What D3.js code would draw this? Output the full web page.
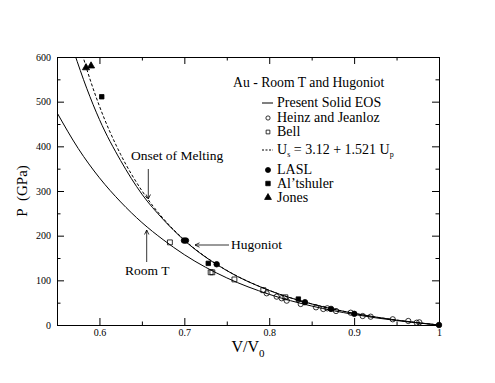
<!DOCTYPE html>
<html>
<head>
<meta charset="utf-8">
<script src="https://cdn.jsdelivr.net/npm/d3@7"></script>
<style>
body { margin: 0; background: #fff; }
text { font-family: "Liberation Serif", "Times New Roman", serif; fill: #000; }
.axis path, .axis line { stroke: #000; stroke-width: 1; }
</style>
</head>
<body>
<div id="viz"></div>
<script>
// Curves, [V/V0, P in GPa]
const roomT = [[0.55,475.5],[0.575,395.2],[0.60,329.5],[0.625,275.5],[0.65,229.5],[0.675,191],
  [0.70,157.5],[0.75,105.5],[0.80,68.7],[0.85,42.5],[0.90,23.6],[0.95,9.9],[1.0,0]];
const hugoniotSolid = [[0.57,611],[0.585,530],[0.60,460],[0.625,368],[0.65,293],[0.675,236.5],
  [0.70,189.5],[0.75,121.8],[0.80,77.4],[0.85,47.2],[0.90,26.1],[0.95,11.0],[1.0,0]];
const hugoniotFit = [[0.58,604.9],[0.585,573.3],[0.59,543.7],[0.60,490.0],[0.625,381.7],[0.65,300.7],
  [0.675,238.8],[0.70,190.6],[0.75,122.3],[0.80,77.6],[0.85,47.3],[0.90,26.1],[0.95,11.0],[1.0,0]];

// Measurements
const heinzJeanloz = [[0.797,71.0],[0.8088,63.5],[0.8147,59.8],[0.8206,54.5],[0.8371,47.0],[0.8551,39.6],
  [0.8637,35.8],[0.8684,37.4],[0.8787,31.3],[0.896,27.5],[0.9101,20.1],[0.9195,18.6],[0.9455,12.8],
  [0.9638,9.0],[0.9737,5.1],[0.9768,6.0]];
const bell = [[0.683,185],[0.731,118],[0.733,118],[0.759,102],[0.793,78],[0.819,62]];
const lasl = [[0.6996,189],[0.7019,189],[0.7381,136],[0.8421,51],[0.8728,36],[0.9002,25],[1.0,0]];
const altshuler = [[0.6027,511],[0.7282,138],[0.8343,58]];
const jones = [[0.5842,576],[0.5901,580]];

const xTicks = [0.6, 0.7, 0.8, 0.9, 1.0];
const xMinor = [0.55, 0.65, 0.75, 0.85, 0.95];
const yTicks = [0, 100, 200, 300, 400, 500, 600];
const yMinor = [50, 150, 250, 350, 450, 550];

const W = 495, H = 383;
const margin = { top: 57, right: 56, bottom: 58, left: 57 };
const width = W - margin.left - margin.right;
const height = H - margin.top - margin.bottom;

const svg = d3.select("#viz").append("svg")
  .attr("width", W).attr("height", H)
  .append("g")
  .attr("transform", "translate(" + margin.left + "," + margin.top + ")");

const x = d3.scaleLinear().domain([0.55, 1.0]).range([0, width]);
const y = d3.scaleLinear().domain([0, 600]).range([height, 0]);

svg.append("clipPath").attr("id", "clip")
  .append("rect").attr("width", width).attr("height", height);

// Frame and ticks on all four sides, pointing inward
const fmtX = d => d === 1 ? "1" : d3.format(".1f")(d);
svg.append("g").attr("class", "axis").attr("transform", "translate(0," + height + ")")
  .call(d3.axisBottom(x).tickValues(xTicks).tickSize(-7).tickPadding(4).tickFormat(fmtX))
  .call(g => g.selectAll("text").style("font-size", "10px"));
svg.append("g").attr("class", "axis").attr("transform", "translate(0," + height + ")")
  .call(d3.axisBottom(x).tickValues(xMinor).tickSize(-3.5).tickFormat(""));
svg.append("g").attr("class", "axis")
  .call(d3.axisTop(x).tickValues(xTicks).tickSize(-7).tickFormat(""));
svg.append("g").attr("class", "axis")
  .call(d3.axisTop(x).tickValues(xMinor).tickSize(-3.5).tickFormat(""));
svg.append("g").attr("class", "axis")
  .call(d3.axisLeft(y).tickValues(yTicks).tickSize(-7).tickPadding(6))
  .call(g => g.selectAll("text").style("font-size", "10px"));
svg.append("g").attr("class", "axis")
  .call(d3.axisLeft(y).tickValues(yMinor).tickSize(-3.5).tickFormat(""));
svg.append("g").attr("class", "axis").attr("transform", "translate(" + width + ",0)")
  .call(d3.axisRight(y).tickValues(yTicks).tickSize(-7).tickFormat(""));
svg.append("g").attr("class", "axis").attr("transform", "translate(" + width + ",0)")
  .call(d3.axisRight(y).tickValues(yMinor).tickSize(-3.5).tickFormat(""));

// Axis titles
svg.append("text")
  .attr("transform", "translate(" + (-30) + "," + (height / 2) + ") rotate(-90)")
  .attr("text-anchor", "middle")
  .style("font-size", "15px")
  .text("P\u00a0\u00a0(GPa)");
const xl = svg.append("text")
  .attr("x", width / 2).attr("y", height + 27)
  .attr("text-anchor", "middle")
  .style("font-size", "16px");
xl.append("tspan").text("V/V");
xl.append("tspan").attr("dy", 5).style("font-size", "11px").text("0");

// Curves
const line = d3.line().x(d => x(d[0])).y(d => y(d[1])).curve(d3.curveMonotoneX);
const curves = svg.append("g").attr("clip-path", "url(#clip)");
curves.append("path").datum(roomT).attr("d", line)
  .attr("fill", "none").attr("stroke", "#000").attr("stroke-width", 1);
curves.append("path").datum(hugoniotSolid).attr("d", line)
  .attr("fill", "none").attr("stroke", "#000").attr("stroke-width", 1);
curves.append("path").datum(hugoniotFit).attr("d", line)
  .attr("fill", "none").attr("stroke", "#000").attr("stroke-width", 1)
  .attr("stroke-dasharray", "3,2");

// Markers
const sym = (type, size) => d3.symbol().type(type).size(size)();
function addPoints(data, type, size, filled) {
  svg.append("g").selectAll("path")
    .data(data).enter().append("path")
    .attr("transform", d => "translate(" + x(d[0]) + "," + y(d[1]) + ")")
    .attr("d", sym(type, size))
    .attr("fill", filled ? "#000" : "none")
    .attr("stroke", "#000").attr("stroke-width", 0.8);
}
addPoints(heinzJeanloz, d3.symbolCircle, 22, false);
addPoints(bell, d3.symbolSquare, 24, false);
addPoints(lasl, d3.symbolCircle, 24, true);
addPoints(altshuler, d3.symbolSquare, 20, true);
addPoints(jones, d3.symbolTriangle, 22, true);

// Annotations with arrows
function arrow(x1, y1, x2, y2) {
  const a = Math.atan2(y2 - y1, x2 - x1), L = 5, s = 0.45;
  svg.append("path")
    .attr("d", "M" + x1 + "," + y1 + "L" + x2 + "," + y2 +
      "M" + (x2 - L * Math.cos(a - s)) + "," + (y2 - L * Math.sin(a - s)) + "L" + x2 + "," + y2 +
      "L" + (x2 - L * Math.cos(a + s)) + "," + (y2 - L * Math.sin(a + s)))
    .attr("fill", "none").attr("stroke", "#000").attr("stroke-width", 0.8);
}
svg.append("text").attr("x", 74).attr("y", 103).style("font-size", "13.5px").text("Onset of Melting");
arrow(91.3, 112, 91.3, 142);
svg.append("text").attr("x", 68).attr("y", 218).style("font-size", "13.5px").text("Room T");
arrow(89.7, 205, 89.7, 173);
svg.append("text").attr("x", 174).attr("y", 192).style("font-size", "13.5px").text("Hugoniot");
arrow(172, 188, 138, 188);

// Legend
svg.append("text").attr("x", 176).attr("y", 30).style("font-size", "13.7px")
  .text("Au - Room T and Hugoniot");
const legendRows = [
  { label: "Present Solid EOS", kind: "line", y: 46 },
  { label: "Heinz and Jeanloz", kind: "ocircle", y: 61 },
  { label: "Bell", kind: "osquare", y: 75 },
  { label: "Us", kind: "dash", y: 93 },
  { label: "LASL", kind: "fcircle", y: 113 },
  { label: "Al\u2019tshuler", kind: "fsquare", y: 126.5 },
  { label: "Jones", kind: "ftriangle", y: 140.5 }
];
const lx = 211, tx = 220;
const legend = svg.append("g");
legendRows.forEach(r => {
  if (r.kind === "line" || r.kind === "dash") {
    legend.append("line").attr("x1", lx - 6).attr("x2", lx + 5).attr("y1", r.y).attr("y2", r.y)
      .attr("stroke", "#000").attr("stroke-width", 1)
      .attr("stroke-dasharray", r.kind === "dash" ? "2,1.5" : null);
  } else {
    const type = r.kind.endsWith("circle") ? d3.symbolCircle :
      r.kind.endsWith("square") ? d3.symbolSquare : d3.symbolTriangle;
    legend.append("path").attr("transform", "translate(" + lx + "," + r.y + ")")
      .attr("d", sym(type, r.kind[0] === "o" ? 14 : 20))
      .attr("fill", r.kind[0] === "f" ? "#000" : "none")
      .attr("stroke", "#000").attr("stroke-width", 0.8);
  }
  const t = legend.append("text").attr("x", tx).attr("y", r.y + 4).style("font-size", "14px");
  if (r.label === "Us") {
    t.append("tspan").text("U");
    t.append("tspan").attr("dy", 3).style("font-size", "8px").text("s");
    t.append("tspan").attr("dy", -3).text(" = 3.12 + 1.521 U");
    t.append("tspan").attr("dy", 3).style("font-size", "8px").text("p");
  } else {
    t.text(r.label);
  }
});
</script>
</body>
</html>
